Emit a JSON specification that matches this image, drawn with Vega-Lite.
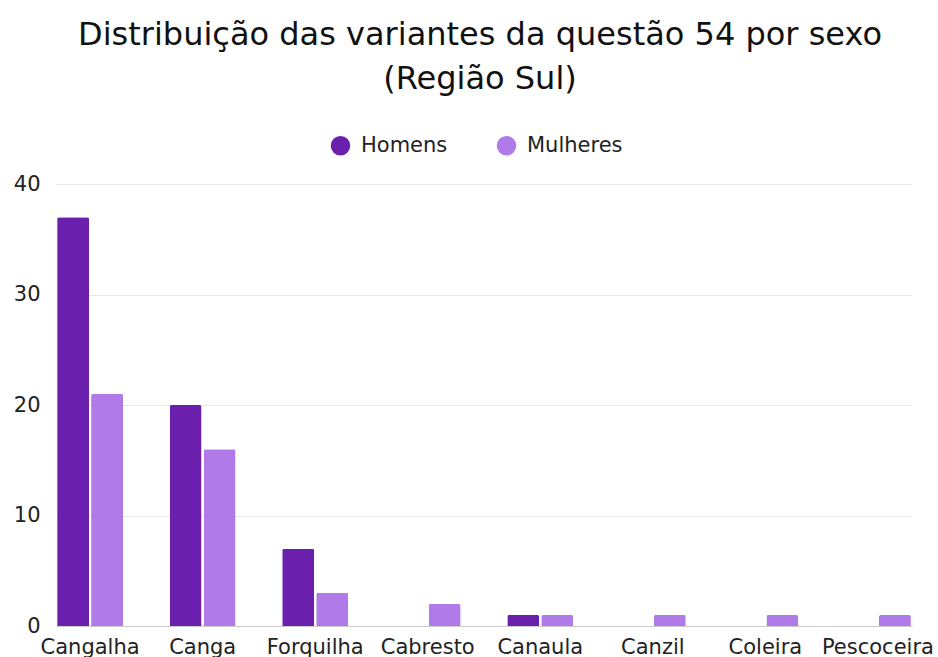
{
  "$schema": "https://vega.github.io/schema/vega-lite/v6.json",
  "width": 856,
  "height": 442,
  "autosize": "none",
  "padding": {"left": 56, "top": 184, "right": 26, "bottom": 31},
  "background": "white",
  "config": {
    "font": "DejaVu Sans",
    "view": {"stroke": null}
  },
  "title": {
    "text": ["Distribuição das variantes da questão 54 por sexo", "(Região Sul)"],
    "fontSize": 32,
    "fontWeight": "normal",
    "color": "#111111",
    "lineHeight": 44,
    "anchor": "middle",
    "dx": -4,
    "offset": 39
  },
  "data": {
    "values": [
      {"variante": "Cangalha", "sexo": "Homens", "n": 37},
      {"variante": "Cangalha", "sexo": "Mulheres", "n": 21},
      {"variante": "Canga", "sexo": "Homens", "n": 20},
      {"variante": "Canga", "sexo": "Mulheres", "n": 16},
      {"variante": "Forquilha", "sexo": "Homens", "n": 7},
      {"variante": "Forquilha", "sexo": "Mulheres", "n": 3},
      {"variante": "Cabresto", "sexo": "Homens", "n": 0},
      {"variante": "Cabresto", "sexo": "Mulheres", "n": 2},
      {"variante": "Canaula", "sexo": "Homens", "n": 1},
      {"variante": "Canaula", "sexo": "Mulheres", "n": 1},
      {"variante": "Canzil", "sexo": "Homens", "n": 0},
      {"variante": "Canzil", "sexo": "Mulheres", "n": 1},
      {"variante": "Coleira", "sexo": "Homens", "n": 0},
      {"variante": "Coleira", "sexo": "Mulheres", "n": 1},
      {"variante": "Pescoceira", "sexo": "Homens", "n": 0},
      {"variante": "Pescoceira", "sexo": "Mulheres", "n": 1}
    ]
  },
  "mark": {"type": "bar", "cornerRadiusTopLeft": 2, "cornerRadiusTopRight": 2},
  "encoding": {
    "x": {
      "field": "variante",
      "type": "nominal",
      "sort": null,
      "scale": {"paddingInner": 0.414, "paddingOuter": 0.01},
      "axis": {
        "title": null,
        "labelAngle": 0,
        "labelFontSize": 21,
        "labelColor": "#222222",
        "labelPadding": 10,
        "ticks": false,
        "domain": true,
        "domainColor": "#cccccc"
      }
    },
    "xOffset": {
      "field": "sexo",
      "type": "nominal",
      "scale": {"paddingInner": 0.06}
    },
    "y": {
      "field": "n",
      "type": "quantitative",
      "scale": {"domain": [0, 40]},
      "axis": {
        "title": null,
        "values": [0, 10, 20, 30, 40],
        "labelFontSize": 21,
        "labelColor": "#222222",
        "labelPadding": 16,
        "ticks": false,
        "domain": false,
        "gridColor": "#e6e6e6"
      }
    },
    "color": {
      "field": "sexo",
      "type": "nominal",
      "scale": {"domain": ["Homens", "Mulheres"], "range": ["#6A1FAD", "#B07AE8"]},
      "legend": {
        "title": null,
        "orient": "none",
        "direction": "horizontal",
        "legendX": 274,
        "legendY": -49,
        "symbolType": "circle",
        "symbolSize": 380,
        "symbolStrokeWidth": 0,
        "labelFontSize": 21,
        "labelColor": "#222222",
        "labelOffset": 10,
        "columnPadding": 48
      }
    }
  }
}
